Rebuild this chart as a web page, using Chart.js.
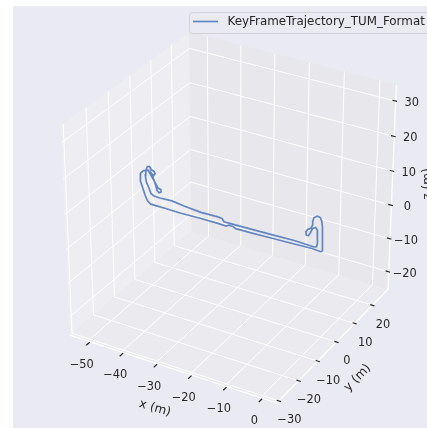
<!DOCTYPE html>
<html>
<head>
<meta charset="utf-8">
<title>KeyFrame Trajectory 3D</title>
<script src="https://cdn.jsdelivr.net/npm/chart.js"></script>
<style>
  html, body { margin: 0; padding: 0; background: #fff; overflow: hidden; }
  #wrap { width: 427px; height: 428px; }
</style>
</head>
<body>
<div id="wrap"><canvas id="traj" width="427" height="428"></canvas></div>
<script>
// box limits as drawn (m) and tick values
const xLim = [-55.45, 4.55];
const yLim = [-31, 29];
const zLim = [-25.35, 34.65];
const xTicks = [-50, -40, -30, -20, -10, 0];
const yTicks = [-30, -20, -10, 0, 10, 20];
const zTicks = [-20, -10, 0, 10, 20, 30];

const seriesName = 'KeyFrameTrajectory_TUM_Format';

// keyframe positions (m)
const trajX = [0, -0.1, -0.1, -0.2, -0.4, -0.9, -1.7, -2.6, -2.9, -2.9, -3.4, -4.3, -4.8, -4.6, -4.0, -3.4,
  -2.9, -2.1, -1.6, -1.5, -1.5, -1.7, -2.4,
  -8, -15, -22, -28.2, -28.8, -30, -35, -40, -43.6,
  -47.5, -49.0, -49.9, -50.4, -51.2, -51.5, -51.3, -50.8, -50.1, -49.6, -48.9, -48.5, -49.1, -49.5, -48.8,
  -48.3, -48.0, -47.4, -46.8, -46.9, -47.7, -49.3, -50.6, -52.0, -52.9, -53.1, -52.9, -52.4, -51.7, -51.0,
  -50.0, -48.5, -45.5,
  -41.2, -35, -30, -27.6, -26.8, -25.6, -24.8, -20, -14, -8, -3, -0.5, 0];
const trajY = [0, 0, 0, 0, 0, 0, 0, 0, 0, 0, 0, 0, 0, 0, 0, 0,
  0, 0, 0, 0, 0, 0, 0,
  0, 0, 0, 0, 0, 0, 0, 0, 0,
  0, 0, 0, 0, 0, 0, 0, 0, 0, 0, 0, 0, 0, 0, 0,
  0, 0, 0, 0, 0, 0, 0, 0, 0, 0, 0, 0, 0, 0, 0,
  0, 0, 0,
  0, 0, 0, 0, 0, 0, 0, 0, 0, 0, 0, 0, 0];
const trajZ = [0, 2.0, 4.3, 6.9, 8.5, 9.4, 9.5, 8.8, 7.8, 6.7, 5.6, 5.0, 4.1, 3.2, 3.3, 4.5,
  5.7, 6.2, 5.7, 3.9, 1.9, 0.8, 0.5,
  0.7, 0.5, 0.3, 0.2, 1.0, 1.1, 1.0, 1.4, 1.9,
  1.7, 1.8, 2.3, 3.6, 5.3, 7.2, 8.7, 9.9, 10.1, 9.3, 9.1, 8.5, 7.6, 8.1, 6.2,
  4.8, 3.7, 3.2, 3.6, 4.3, 4.5, 7.0, 8.9, 8.4, 7.4, 6.4, 5.1, 3.4, 1.3, -0.2,
  -0.9, -0.9, -0.9,
  -1.0, -0.8, -0.8, -0.9, -0.4, -0.4, -0.8, -0.7, -0.5, -0.3, -0.1, -0.3, 0];

// camera: elev 30, azim -60, mild perspective like mplot3d
const elev = 30 * Math.PI / 180;
const azim = -60 * Math.PI / 180;
const eyeDist = 9.47;

function project(x, y, z) {
  const u = (x - xLim[0]) / (xLim[1] - xLim[0]) - 0.5;
  const v = (y - yLim[0]) / (yLim[1] - yLim[0]) - 0.5;
  const w = (z - zLim[0]) / (zLim[1] - zLim[0]) - 0.5;
  const ce = Math.cos(elev), se = Math.sin(elev), ca = Math.cos(azim), sa = Math.sin(azim);
  const depth = u * ce * ca + v * ce * sa + w * se;
  const k = eyeDist / (eyeDist - depth);
  return {
    x: (-u * sa + v * ca) * k,
    y: (-u * se * ca - v * se * sa + w * ce) * k
  };
}

const pt = (p) => project(p[0], p[1], p[2]);
const gap = { x: null, y: null };

function segments(list) {
  const out = [];
  list.forEach(s => { out.push(pt(s[0]), pt(s[1]), gap); });
  return out;
}

const [x0, x1] = xLim, [y0, y1] = yLim, [z0, z1] = zLim;

// panes (back walls + floor)
const panes = [
  { color: 'rgba(242,242,242,0.5)', c: [[x0, y0, z0], [x0, y1, z0], [x0, y1, z1], [x0, y0, z1]] },
  { color: 'rgba(230,230,230,0.5)', c: [[x0, y1, z0], [x1, y1, z0], [x1, y1, z1], [x0, y1, z1]] },
  { color: 'rgba(236,236,236,0.5)', c: [[x0, y0, z0], [x1, y0, z0], [x1, y1, z0], [x0, y1, z0]] }
];

const gridSegs = [];
xTicks.forEach(t => {
  gridSegs.push([[t, y0, z0], [t, y1, z0]]);
  gridSegs.push([[t, y1, z0], [t, y1, z1]]);
});
yTicks.forEach(t => {
  gridSegs.push([[x0, t, z0], [x1, t, z0]]);
  gridSegs.push([[x0, t, z0], [x0, t, z1]]);
});
zTicks.forEach(t => {
  gridSegs.push([[x0, y0, t], [x0, y1, t]]);
  gridSegs.push([[x0, y1, t], [x1, y1, t]]);
});

const axisSegs = [
  [[x0, y0, z0], [x1, y0, z0]],
  [[x1, y0, z0], [x1, y1, z0]],
  [[x1, y1, z0], [x1, y1, z1]]
];

const tickSegs = [];
xTicks.forEach(t => tickSegs.push([[t, y0 - 0.8, z0 - 0.8], [t, y0 + 0.8, z0 - 0.8]]));
yTicks.forEach(t => tickSegs.push([[x1 - 0.6, t, z0], [x1 + 0.6, t, z0]]));
zTicks.forEach(t => tickSegs.push([[x1 - 0.9, y1, t], [x1 + 0.4, y1, t]]));

const datasets = [];
panes.forEach(p => {
  datasets.push({
    data: p.c.concat([p.c[0]]).map(pt),
    fill: 'shape',
    backgroundColor: p.color,
    borderColor: 'rgba(0,0,0,0)',
    borderWidth: 0,
    order: 50
  });
});
datasets.push({ data: segments(gridSegs), borderColor: '#ffffff', borderWidth: 1, order: 40 });
datasets.push({ data: segments(axisSegs), borderColor: '#ffffff', borderWidth: 1.25, order: 30 });
datasets.push({ data: segments(tickSegs), borderColor: '#262626', borderWidth: 1.2, order: 20 });
datasets.push({
  label: seriesName,
  data: trajX.map((x, i) => project(x, trajY[i], trajZ[i])),
  borderColor: '#6286c4',
  borderWidth: 1.7,
  order: 0
});

function fmt(t) { return t < 0 ? '\u2212' + Math.abs(t) : String(t); }

const frame3d = {
  id: 'frame3d',
  beforeDraw(chart) {
    const ctx = chart.ctx;
    ctx.save();
    ctx.fillStyle = '#ffffff';
    ctx.fillRect(0, 0, chart.width, chart.height);
    ctx.fillStyle = '#eaeaf2';
    ctx.fillRect(13, 6, chart.width - 13, chart.height - 6);
    ctx.restore();
  },
  afterDatasetsDraw(chart) {
    const ctx = chart.ctx;
    const sx = chart.scales.x, sy = chart.scales.y;
    const px = (X, Y, Z) => {
      const p = project(X, Y, Z);
      return [sx.getPixelForValue(p.x), sy.getPixelForValue(p.y)];
    };
    const rot = (txt, x, y, deg) => {
      ctx.save();
      ctx.translate(x, y);
      ctx.rotate(deg * Math.PI / 180);
      ctx.fillText(txt, 0, 0);
      ctx.restore();
    };
    ctx.save();
    ctx.fillStyle = '#262626';
    ctx.font = '11.4px "DejaVu Sans"';
    ctx.textAlign = 'center';
    ctx.textBaseline = 'middle';
    xTicks.forEach(t => { const p = px(t, y0, z0); ctx.fillText(fmt(t), p[0] - 6, p[1] + 23.5); });
    yTicks.forEach(t => { const p = px(x1, t, z0); ctx.fillText(fmt(t), p[0] + 10.5, p[1] + 19.5); });
    zTicks.forEach(t => { const p = px(x1, y1, t); ctx.fillText(fmt(t), p[0] + 16, p[1] + 2); });

    ctx.font = '12.2px "DejaVu Sans"';
    let p = px((x0 + x1) / 2, y0, z0);
    rot('x (m)', p[0] - 16, p[1] + 40, 16);
    p = px(x1, (y0 + y1) / 2, z0);
    rot('y (m)', p[0] + 23, p[1] + 34, -46);
    p = px(x1, y1, (z0 + z1) / 2);
    ctx.textBaseline = 'alphabetic';
    rot('z (m)', p[0] + 38.5, p[1] - 5.5, -90);

    // legend box, top right
    ctx.beginPath();
    ctx.roundRect(189.5, 12.5, 260, 21, 3);
    ctx.fillStyle = 'rgba(234,234,242,0.8)';
    ctx.fill();
    ctx.strokeStyle = 'rgba(204,204,204,0.8)';
    ctx.lineWidth = 1;
    ctx.stroke();
    ctx.beginPath();
    ctx.moveTo(193, 21.5);
    ctx.lineTo(218, 21.5);
    ctx.strokeStyle = '#6286c4';
    ctx.lineWidth = 1.7;
    ctx.stroke();
    ctx.fillStyle = '#262626';
    ctx.font = '11.9px "DejaVu Sans"';
    ctx.textAlign = 'left';
    ctx.textBaseline = 'middle';
    ctx.fillText(seriesName, 227.5, 22);
    ctx.restore();
  }
};

new Chart(document.getElementById('traj'), {
  type: 'line',
  data: { datasets: datasets },
  options: {
    responsive: false,
    animation: false,
    events: [],
    layout: { padding: 0, autoPadding: false },
    elements: { point: { radius: 0 }, line: { tension: 0 } },
    scales: {
      x: { type: 'linear', min: -0.9686, max: 0.8180, display: false },
      y: { type: 'linear', min: -0.9080, max: 0.8828, display: false }
    },
    plugins: { legend: { display: false }, tooltip: { enabled: false } }
  },
  plugins: [frame3d]
});
</script>
</body>
</html>
